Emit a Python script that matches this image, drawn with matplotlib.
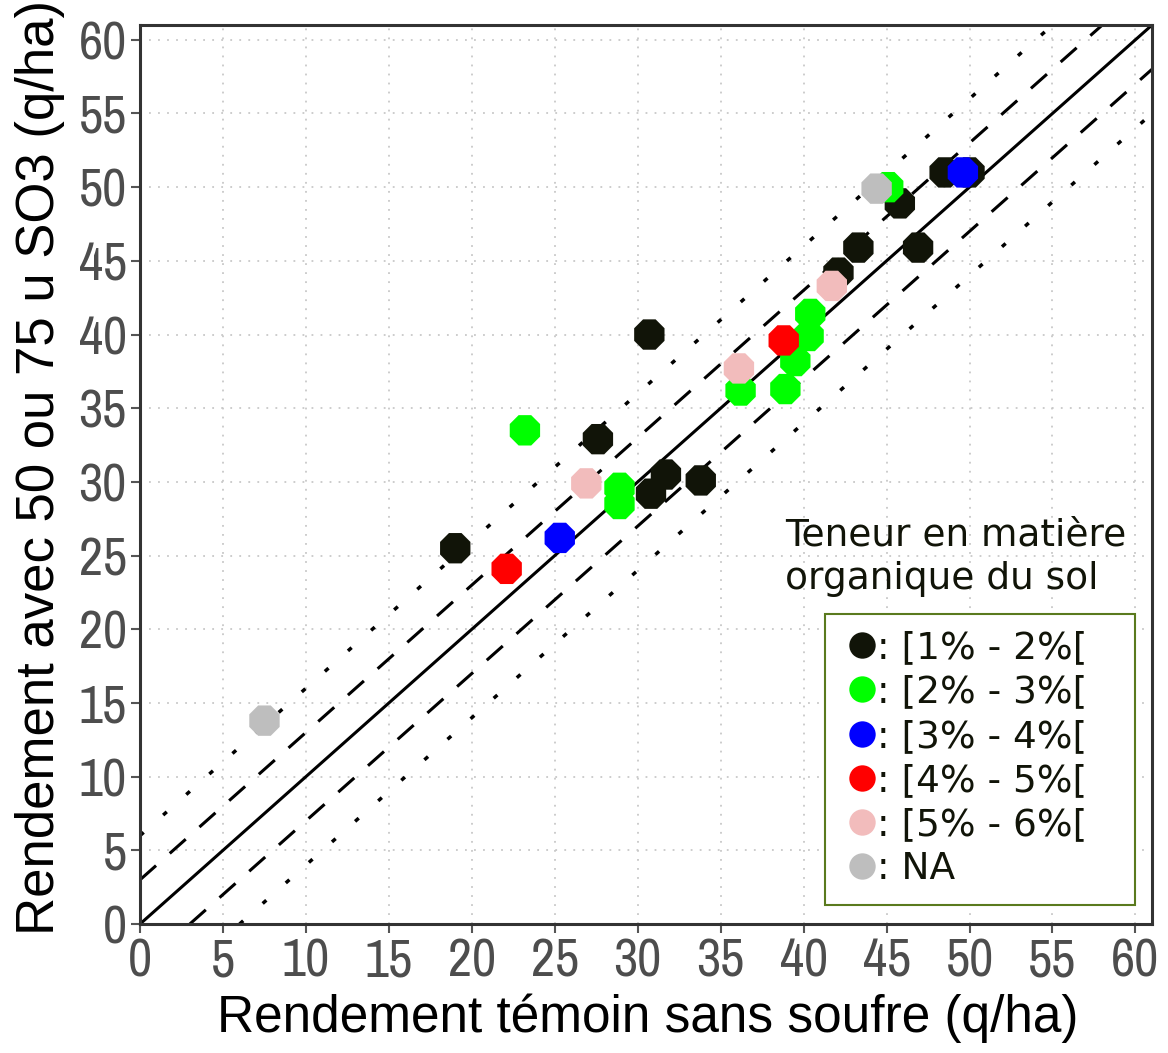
import matplotlib.pyplot as plt
from matplotlib.lines import Line2D
from matplotlib.patches import Rectangle

# rendement (q/ha) : temoin sans soufre / avec 50 ou 75 u SO3
temoin = [7.5, 19.0, 22.1, 25.3, 23.2, 26.9, 27.6, 28.9, 28.9, 30.8, 31.7, 33.8,
          30.7, 36.1, 36.2, 38.8, 38.9, 39.5, 40.3, 40.4, 42.1, 41.7, 43.3, 46.9,
          45.8, 44.4, 45.1, 48.5, 50.0, 49.6]
soufre = [13.8, 25.5, 24.1, 26.2, 33.5, 29.9, 32.9, 29.6, 28.5, 29.2, 30.5, 30.1,
          40.0, 37.7, 36.2, 39.6, 36.3, 38.2, 39.9, 41.4, 44.2, 43.3, 45.9, 45.9,
          48.9, 49.9, 50.0, 51.0, 51.0, 51.0]
classe = ['NA', '1-2', '4-5', '3-4', '2-3', '5-6', '1-2', '2-3', '2-3', '1-2', '1-2', '1-2',
          '1-2', '5-6', '2-3', '4-5', '2-3', '2-3', '2-3', '2-3', '1-2', '5-6', '1-2', '1-2',
          '1-2', 'NA', '2-3', '1-2', '1-2', '3-4']

classes = ['1-2', '2-3', '3-4', '4-5', '5-6', 'NA']
class_labels = [': [1% - 2%[', ': [2% - 3%[', ': [3% - 4%[', ': [4% - 5%[',
                ': [5% - 6%[', ': NA']
colors = {'1-2': '#111408', '2-3': '#00ff00', '3-4': '#0000ff',
          '4-5': '#ff0000', '5-6': '#f2bcbc', 'NA': '#bebebe'}

# droites de reference y = x + offset
offsets = [0, 3, -3, 6, -6]
styles = {0: '-', 3: (0, (7, 6)), -3: (0, (7, 6)), 6: (0, (1.4, 7.5)), -6: (0, (1.4, 7.5))}

ticks = list(range(0, 61, 5))

fig = plt.figure(figsize=(11.68, 10.53), dpi=100)
ax = fig.add_axes([0.1199, 0.1225, 0.8664, 0.8537])

ax.set_xlim(0, 61)
ax.set_ylim(0, 61)
ax.set_xticks(ticks)
ax.set_yticks(ticks)
ax.grid(True, color='#c8c8c8', linestyle=(0, (1, 4)), linewidth=1.3)
ax.set_axisbelow(True)

for off in offsets:
    lw = 2.2 if abs(off) < 5 else 2.5
    ax.axline((0, off), slope=1, color='black', linestyle=styles[off], linewidth=lw, zorder=2)

# points par classe de matiere organique
for c in classes:
    xs = [x for x, k in zip(temoin, classe) if k == c]
    ys = [y for y, k in zip(soufre, classe) if k == c]
    ax.scatter(xs, ys, marker='8', s=560, color=colors[c], edgecolors='none', zorder=3)

for sp in ax.spines.values():
    sp.set_color('#333333')
    sp.set_linewidth(2.2)

tick_font = ['Archivo Narrow', 'DejaVu Sans']
ax.tick_params(direction='out', length=6.5, width=1.5, color='#555555',
               labelcolor='#4d4d4d', labelsize=38, pad=3)
for lab in ax.get_xticklabels() + ax.get_yticklabels():
    lab.set_family(tick_font)

ax.set_xlabel('Rendement témoin sans soufre (q/ha)', fontsize=37,
              family=['Liberation Sans', 'DejaVu Sans'])
ax.set_ylabel('Rendement avec 50 ou 75 u SO3 (q/ha)', fontsize=38,
              family=['Liberation Sans', 'DejaVu Sans'])
ax.xaxis.set_label_coords(0.502, -0.077)
ax.yaxis.set_label_coords(-0.074, 0.508)

# legende : cadre dessine a part
fig.patches.append(Rectangle((825 / 1168, 1 - 905 / 1053), 310 / 1168, 291 / 1053,
                             transform=fig.transFigure, facecolor='white',
                             edgecolor='#5a7a1e', linewidth=1.5, zorder=5))

handles = [Line2D([], [], marker='o', linestyle='none', markersize=19,
                  color=colors[c], markeredgewidth=0) for c in classes]
leg = fig.legend(handles, class_labels, loc='upper left',
                 bbox_to_anchor=(0.727, 0.4015), bbox_transform=fig.transFigure,
                 fontsize=27, frameon=False, borderaxespad=0, borderpad=0,
                 handlelength=0.7, handletextpad=0.05, labelspacing=0.22)
leg.set_zorder(6)
for t in leg.get_texts():
    t.set_color('#111408')

fig.text(0.672, 0.471, 'Teneur en matière\norganique du sol', fontsize=27,
         color='#111408', va='center', ha='left', linespacing=1.25)

fig.savefig('out.png', dpi=100)
